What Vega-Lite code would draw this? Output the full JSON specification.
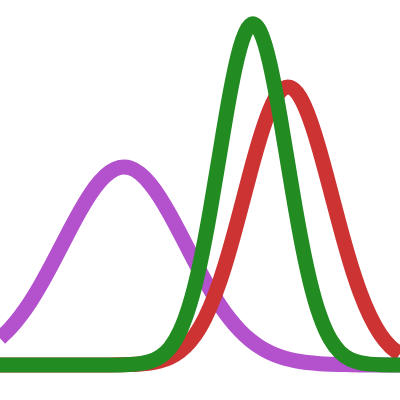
{
  "$schema": "https://vega.github.io/schema/vega-lite/v6.json",
  "width": 400,
  "height": 400,
  "padding": 0,
  "autosize": {"type": "fit", "contains": "padding"},
  "background": "white",
  "config": {"view": {"stroke": null}},
  "datasets": {
    "curves": [
      {"x":0,"y":61.8,"s":"a"},{"x":10,"y":71.5,"s":"a"},{"x":20,"y":83.5,"s":"a"},{"x":30,"y":97.7,"s":"a"},{"x":40,"y":114.1,"s":"a"},{"x":50,"y":132.1,"s":"a"},{"x":60,"y":151.2,"s":"a"},{"x":70,"y":170.5,"s":"a"},{"x":80,"y":188.9,"s":"a"},{"x":90,"y":205.4,"s":"a"},{"x":100,"y":218.7,"s":"a"},{"x":110,"y":228.0,"s":"a"},{"x":120,"y":232.6,"s":"a"},{"x":130,"y":232.1,"s":"a"},{"x":140,"y":226.5,"s":"a"},{"x":150,"y":216.3,"s":"a"},{"x":160,"y":202.3,"s":"a"},{"x":170,"y":185.4,"s":"a"},{"x":180,"y":166.7,"s":"a"},{"x":190,"y":147.4,"s":"a"},{"x":200,"y":128.4,"s":"a"},{"x":210,"y":110.7,"s":"a"},{"x":220,"y":94.7,"s":"a"},{"x":230,"y":80.9,"s":"a"},{"x":240,"y":69.4,"s":"a"},{"x":250,"y":60.1,"s":"a"},{"x":260,"y":52.9,"s":"a"},{"x":270,"y":47.4,"s":"a"},{"x":280,"y":43.4,"s":"a"},{"x":290,"y":40.5,"s":"a"},{"x":300,"y":38.5,"s":"a"},{"x":310,"y":37.2,"s":"a"},{"x":320,"y":36.3,"s":"a"},{"x":330,"y":35.8,"s":"a"},{"x":340,"y":35.5,"s":"a"},{"x":350,"y":35.3,"s":"a"},{"x":360,"y":35.1,"s":"a"},{"x":370,"y":35.1,"s":"a"},{"x":380,"y":35.0,"s":"a"},{"x":390,"y":35.0,"s":"a"},{"x":400,"y":35.0,"s":"a"},
      {"x":0,"y":35.0,"s":"b"},{"x":20,"y":35.0,"s":"b"},{"x":40,"y":35.0,"s":"b"},{"x":60,"y":35.0,"s":"b"},{"x":80,"y":35.0,"s":"b"},{"x":100,"y":35.0,"s":"b"},{"x":110,"y":35.1,"s":"b"},{"x":120,"y":35.2,"s":"b"},{"x":130,"y":35.4,"s":"b"},{"x":140,"y":36.0,"s":"b"},{"x":150,"y":37.0,"s":"b"},{"x":160,"y":39.0,"s":"b"},{"x":170,"y":42.6,"s":"b"},{"x":180,"y":48.7,"s":"b"},{"x":190,"y":58.3,"s":"b"},{"x":200,"y":72.6,"s":"b"},{"x":210,"y":92.8,"s":"b"},{"x":220,"y":119.2,"s":"b"},{"x":230,"y":151.6,"s":"b"},{"x":240,"y":188.3,"s":"b"},{"x":250,"y":226.5,"s":"b"},{"x":260,"y":262.0,"s":"b"},{"x":270,"y":290.7,"s":"b"},{"x":280,"y":308.4,"s":"b"},{"x":290,"y":312.7,"s":"b"},{"x":300,"y":302.9,"s":"b"},{"x":310,"y":280.3,"s":"b"},{"x":320,"y":248.4,"s":"b"},{"x":330,"y":211.3,"s":"b"},{"x":340,"y":173.3,"s":"b"},{"x":350,"y":138.0,"s":"b"},{"x":360,"y":107.9,"s":"b"},{"x":370,"y":84.0,"s":"b"},{"x":380,"y":66.2,"s":"b"},{"x":390,"y":53.9,"s":"b"},{"x":400,"y":45.9,"s":"b"},
      {"x":0,"y":35.0,"s":"c"},{"x":20,"y":35.0,"s":"c"},{"x":40,"y":35.0,"s":"c"},{"x":60,"y":35.0,"s":"c"},{"x":80,"y":35.0,"s":"c"},{"x":100,"y":35.0,"s":"c"},{"x":110,"y":35.0,"s":"c"},{"x":120,"y":35.1,"s":"c"},{"x":130,"y":35.5,"s":"c"},{"x":140,"y":36.4,"s":"c"},{"x":150,"y":38.5,"s":"c"},{"x":160,"y":43.1,"s":"c"},{"x":170,"y":52.3,"s":"c"},{"x":180,"y":69.0,"s":"c"},{"x":190,"y":96.3,"s":"c"},{"x":200,"y":136.2,"s":"c"},{"x":210,"y":188.3,"s":"c"},{"x":220,"y":247.9,"s":"c"},{"x":230,"y":306.3,"s":"c"},{"x":240,"y":352.0,"s":"c"},{"x":250,"y":374.7,"s":"c"},{"x":260,"y":368.8,"s":"c"},{"x":270,"y":335.9,"s":"c"},{"x":280,"y":283.8,"s":"c"},{"x":290,"y":223.6,"s":"c"},{"x":300,"y":166.1,"s":"c"},{"x":310,"y":118.6,"s":"c"},{"x":320,"y":83.9,"s":"c"},{"x":330,"y":61.2,"s":"c"},{"x":340,"y":47.9,"s":"c"},{"x":350,"y":40.8,"s":"c"},{"x":360,"y":37.4,"s":"c"},{"x":370,"y":35.9,"s":"c"},{"x":380,"y":35.3,"s":"c"},{"x":390,"y":35.1,"s":"c"},{"x":400,"y":35.0,"s":"c"}
    ]
  },
  "data": {"name": "curves"},
  "encoding": {
    "x": {"field": "x", "type": "quantitative", "scale": {"domain": [0, 400], "nice": false, "zero": false}, "axis": null},
    "y": {"field": "y", "type": "quantitative", "scale": {"domain": [0, 400], "nice": false, "zero": false}, "axis": null}
  },
  "layer": [
    {"transform": [{"filter": "datum.s === 'a'"}], "mark": {"type": "line", "interpolate": "natural", "strokeWidth": 15, "color": "#B452CD", "clip": true}},
    {"transform": [{"filter": "datum.s === 'b'"}], "mark": {"type": "line", "interpolate": "natural", "strokeWidth": 15, "color": "#CD3333", "clip": true}},
    {"transform": [{"filter": "datum.s === 'c'"}], "mark": {"type": "line", "interpolate": "natural", "strokeWidth": 15, "color": "#228B22", "clip": true}}
  ]
}
